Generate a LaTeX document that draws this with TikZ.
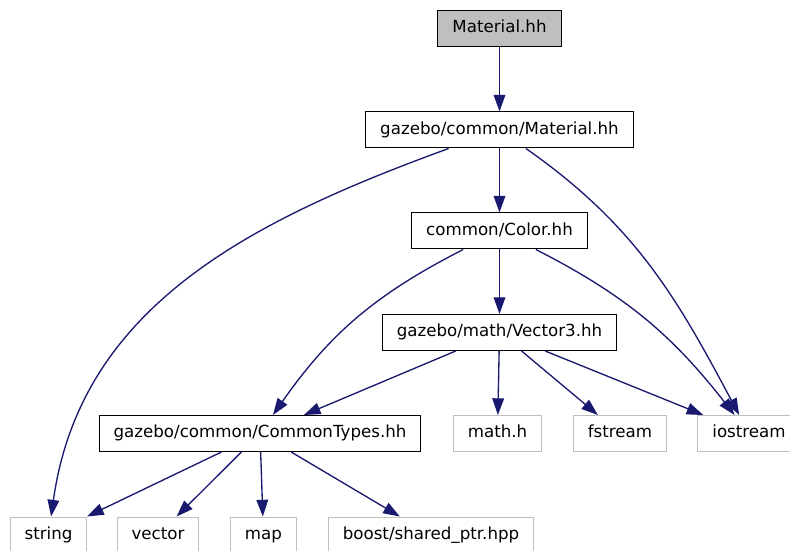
\documentclass[tikz,border=0pt]{standalone}
\usepackage{fontspec}
\setmainfont{DejaVu Sans}
\usepackage{tikz}
\usetikzlibrary{arrows.meta,positioning}

\definecolor{edgeblue}{HTML}{191970}
\definecolor{boxgray}{HTML}{BFBFBF}

\begin{document}
\begin{tikzpicture}[
    x=0.6pt, y=0.6pt,
    file/.style={draw=black, line width=0.6pt, minimum height=21.6pt, text height=7.5pt, text depth=2.2pt, inner xsep=8.7pt, inner ysep=0pt, font=\fontsize{10}{12}\selectfont},
    root/.style={file, fill=boxgray},
    extern/.style={file, draw=boxgray},
    dep/.style={-{Triangle[length=10pt, width=7pt, fill=edgeblue]}, draw=edgeblue, line width=0.8pt}
]
    \useasboundingbox (0,0) rectangle (790,550);

    % Headers of the project
    \node[root] (mat) at (499.5,521.5) {Material.hh};
    \node[file] (gmat) at (499.5,420) {gazebo/common/Material.hh};
    \node[file] (color) at (499.5,319) {common/Color.hh};
    \node[file] (vec) at (499.5,217.5) {gazebo/math/Vector3.hh};
    \node[file] (ctypes) at (260,116.5) {gazebo/common/CommonTypes.hh};

    % System and library headers
    \node[extern] (mathh) at (497.5,116.5) {math.h};
    \node[extern] (fstream) at (620,116.5) {fstream};
    \node[extern] (iostream) at (749,116.5) {iostream};
    \node[extern] (string) at (48.5,15) {string};
    \node[extern] (vector) at (158,15) {vector};
    \node[extern] (map) at (263.5,15) {map};
    \node[extern] (boost) at (431,15) {boost/shared\_ptr.hpp};

    % Includes
    \draw[dep] (mat) -- (gmat);
    \draw[dep] (gmat) -- (color);
    \draw[dep] (gmat) to[out=200, in=82] (string);
    \draw[dep] (gmat) to[out=-35, in=118] (iostream);
    \draw[dep] (color) -- (vec);
    \draw[dep] (color) to[out=207, in=55] (ctypes);
    \draw[dep] (color) to[out=-27, in=128] (iostream);
    \draw[dep] (vec) -- (ctypes);
    \draw[dep] (vec) -- (mathh);
    \draw[dep] (vec) -- (fstream);
    \draw[dep] (vec) -- (iostream);
    \draw[dep] (ctypes) -- (string);
    \draw[dep] (ctypes) -- (vector);
    \draw[dep] (ctypes) -- (map);
    \draw[dep] (ctypes) -- (boost);
\end{tikzpicture}
\end{document}
